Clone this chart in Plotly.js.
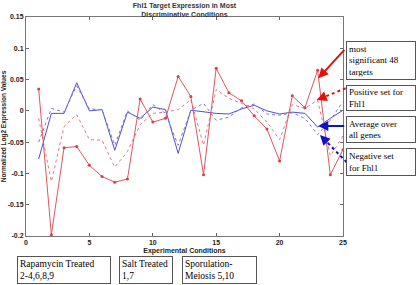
<!DOCTYPE html>
<html>
<head>
<meta charset="utf-8">
<script src="https://cdn.plot.ly/plotly-3.0.1.min.js"></script>
<style>html,body{margin:0;padding:0;background:#fff;}#chart{width:416px;height:285px;}</style>
</head>
<body>
<div id="chart"></div>
<script>
var conditions = [1,2,3,4,5,6,7,8,9,10,11,12,13,14,15,16,17,18,19,20,21,22,23,24,25];
var top48 = [0.035,-0.198,-0.059,-0.057,-0.087,-0.105,-0.114,-0.109,0.019,-0.018,-0.012,0.055,0.023,-0.102,0.068,0.029,0.016,-0.008,-0.029,-0.080,0.024,0.005,0.065,-0.102,-0.062];
var positiveSet = [-0.012,-0.113,-0.025,-0.006,-0.046,-0.047,-0.090,-0.065,-0.022,-0.004,-0.002,0.002,0.018,-0.055,0.034,0.020,0.012,0.003,-0.018,-0.046,0.010,0.004,0.017,-0.072,-0.040];
var averageAll = [-0.077,-0.004,-0.004,0.045,0.000,0.002,-0.063,-0.002,-0.012,0.006,0.002,-0.068,0.001,-0.002,-0.004,-0.005,0.003,0.009,0.000,-0.005,-0.002,-0.004,-0.026,-0.012,0.001];
var negativeSet = [-0.050,0.004,-0.002,0.040,0.003,0.002,-0.055,0.000,-0.015,0.010,-0.004,-0.055,0.001,0.012,-0.015,-0.010,0.005,0.011,-0.005,-0.007,-0.003,-0.012,-0.038,-0.015,0.015];
var xTicks = [0,5,10,15,20,25];
var yTicks = [-0.2,-0.15,-0.1,-0.05,0,0.05,0.1,0.15];
var yTickText = ['-0.2','-0.15','-0.1','-0.05','0','0.05','0.1','0.15'];
var seriesLabels = ['most<br>significant 48<br>targets','Positive set for<br>Fhl1','Average over<br>all genes','Negative set<br>for Fhl1'];
var conditionLabels = ['Rapamycin Treated<br>2-4,6,8,9','Salt Treated<br>1,7','Sporulation-<br>Meiosis 5,10'];

// pixel helpers for layout placement (plot area: x 26..343, y 17..236)
function px(x){return (x-26)/317;}
function py(y){return (236-y)/219;}

var traces = [
  {x:conditions,y:averageAll,mode:'lines',line:{color:'rgb(80,80,205)',width:1},hoverinfo:'none'},
  {x:conditions,y:negativeSet,mode:'lines',line:{color:'rgb(120,120,215)',width:1,dash:'dot'},hoverinfo:'none'},
  {x:conditions,y:positiveSet,mode:'lines',line:{color:'rgb(225,120,130)',width:1,dash:'dot'},hoverinfo:'none'},
  {x:conditions,y:top48,mode:'lines+markers',line:{color:'rgb(225,85,95)',width:1},marker:{color:'rgb(215,60,70)',size:3},hoverinfo:'none'}
];

var boxFont = {family:'Liberation Serif, Times New Roman, serif',size:9,color:'#000'};
var bottomFont = {family:'Liberation Serif, Times New Roman, serif',size:9.5,color:'#000'};
var annotations = [];
var rightBoxes = [
  {top:40.7,h:38.6},
  {top:85,h:25.5},
  {top:116,h:27},
  {top:148.3,h:28.4}
];
for (var i=0;i<seriesLabels.length;i++){
  annotations.push({xref:'paper',yref:'paper',x:px(346),y:py(rightBoxes[i].top),xanchor:'left',yanchor:'top',
    text:seriesLabels[i],showarrow:false,align:'left',valign:'middle',width:64,height:rightBoxes[i].h-6,
    bordercolor:'#555',borderwidth:1,borderpad:2,bgcolor:'#fff',font:boxFont});
}
var bottomBoxes = [{left:17.3,w:94.4},{left:119.3,w:54},{left:181.7,w:74.6}];
for (var j=0;j<conditionLabels.length;j++){
  annotations.push({xref:'paper',yref:'paper',x:px(bottomBoxes[j].left),y:py(256),xanchor:'left',yanchor:'top',
    text:conditionLabels[j],showarrow:false,align:'left',valign:'middle',width:bottomBoxes[j].w-6,height:22,
    bordercolor:'#555',borderwidth:1,borderpad:2,bgcolor:'#fff',font:bottomFont});
}
// solid arrows
annotations.push({xref:'paper',yref:'paper',x:px(318.3),y:py(78.3),ax:27.4,ay:-30,text:'',showarrow:true,
  arrowcolor:'#e01010',arrowwidth:2,arrowhead:2,arrowsize:1});
annotations.push({xref:'paper',yref:'paper',x:px(318.3),y:py(126),ax:27.4,ay:0,text:'',showarrow:true,
  arrowcolor:'#1010c8',arrowwidth:2,arrowhead:2,arrowsize:1});
// heads for dotted arrows
annotations.push({xref:'paper',yref:'paper',x:px(316.7),y:py(100),ax:7.4,ay:-3,text:'',showarrow:true,
  arrowcolor:'#e01010',arrowwidth:2,arrowhead:2,arrowsize:1});
annotations.push({xref:'paper',yref:'paper',x:px(320),y:py(135),ax:5.6,ay:5.7,text:'',showarrow:true,
  arrowcolor:'#1010c8',arrowwidth:2,arrowhead:2,arrowsize:1});

var shapes = [
  {type:'line',xref:'paper',yref:'paper',x0:px(345.7),y0:py(88.3),x1:px(321),y1:py(98.3),line:{color:'#e01010',width:2,dash:'dot'}},
  {type:'line',xref:'paper',yref:'paper',x0:px(346.7),y0:py(162.3),x1:px(323.5),y1:py(138.6),line:{color:'#1010c8',width:2,dash:'dot'}}
];

var axisFont = {family:'Liberation Sans, Arial, sans-serif',size:7,color:'#222',weight:'bold'};
var layout = {
  width:416,height:285,
  margin:{l:26,r:73,t:17,b:49,pad:0},
  paper_bgcolor:'#fff',plot_bgcolor:'#fff',
  showlegend:false,
  title:{text:'Fhl1 Target Expression in Most<br>Discriminative Conditions',
    font:{family:'Liberation Sans, Arial, sans-serif',size:7,color:'#333',weight:'bold'},
    x:0.5,xref:'paper',xanchor:'center',y:0.972,yref:'container',yanchor:'middle'},
  xaxis:{range:[0,25],tickvals:xTicks,ticktext:xTicks.map(String),ticks:'inside',ticklen:3,tickcolor:'#666',
    showline:true,linecolor:'#777',linewidth:1,mirror:'ticks',showgrid:false,zeroline:false,
    tickfont:axisFont,
    title:{text:'Experimental Conditions',font:axisFont,standoff:2}},
  yaxis:{range:[-0.2,0.15],tickvals:yTicks,ticktext:yTickText,ticks:'inside',ticklen:3,tickcolor:'#666',
    showline:true,linecolor:'#777',linewidth:1,mirror:'ticks',showgrid:false,zeroline:false,
    tickfont:axisFont,
    title:{text:'Normalized Log2 Expression Values',font:{family:'Liberation Sans, Arial, sans-serif',size:6.5,color:'#222',weight:'bold'},standoff:2}},
  annotations:annotations,
  shapes:shapes
};
Plotly.newPlot('chart',traces,layout,{staticPlot:true,displayModeBar:false});
</script>
</body>
</html>
